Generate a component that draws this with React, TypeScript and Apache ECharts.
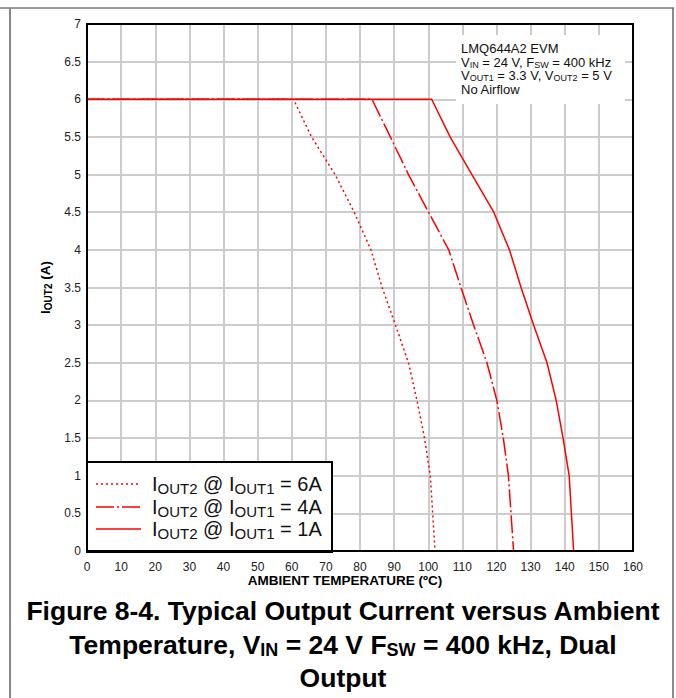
import React, { useEffect, useRef } from "react";
import * as echarts from "echarts";

// Output current levels (A) shared by the three derating curves
const currentLevels = [6, 6, 5.5, 5, 4.5, 4, 3.5, 3, 2.5, 2, 1.5, 1, 0];
// Ambient temperature (°C) at which each current level is reached
const temp6A = [0, 60.5, 65.8, 72.7, 78.3, 83.2, 86.5, 90.4, 94.2, 96.7, 98.9, 100.6, 102];
const temp4A = [0, 83.5, 88.9, 94.2, 100.1, 106, 109.6, 113.3, 117.2, 120.1, 122, 123.5, 125];
const temp1A = [0, 101, 106.4, 112.8, 119.2, 123.8, 127.2, 130.9, 134.8, 137.5, 139.5, 141.3, 142.6];

const seriesNames = ["IOUT2 @ IOUT1 = 6A", "IOUT2 @ IOUT1 = 4A", "IOUT2 @ IOUT1 = 1A"];
const legendRich = [
  "{m|I}{s|OUT2}{m| @ I}{s|OUT1}{m| = 6A}",
  "{m|I}{s|OUT2}{m| @ I}{s|OUT1}{m| = 4A}",
  "{m|I}{s|OUT2}{m| @ I}{s|OUT1}{m| = 1A}",
];
const annotationLines = [
  "{m|LMQ644A2 EVM}",
  "{m|V}{s|IN}{m| = 24 V, F}{s|SW}{m| = 400 kHz}",
  "{m|V}{s|OUT1}{m| = 3.3 V, V}{s|OUT2}{m| = 5 V}",
  "{m|No Airflow}",
];
const captionLines = [
  "{m|Figure 8-4. Typical Output Current versus Ambient}",
  "{m|Temperature, V}{s|IN}{m| = 24 V F}{s|SW}{m| = 400 kHz, Dual}",
  "{m|Output}",
];
const xAxisTitle = "AMBIENT TEMPERATURE (ºC)";
const yAxisTitle = "{m|I}{s|OUT2}{m| (A)}";

const FONT = "'Liberation Sans', Arial, Helvetica, sans-serif";
const RED = "#ff0000";
const DASHES: number[][] = [[2, 3], [18, 3, 2, 3], []];

export default function App() {
  const ref = useRef<HTMLDivElement>(null);
  useEffect(() => {
    const chart = echarts.init(ref.current!, null, { renderer: "svg" });
    const tempsList = [temp6A, temp4A, temp1A];

    const gl = 87, gt = 24, gw = 546, gh = 527;
    const Z = 100;

    const legendChildren: any[] = [
      {
        type: "rect",
        z: Z,
        shape: { x: 87, y: 462, width: 245, height: 90 },
        style: { fill: "#fff", stroke: "#000", lineWidth: 2 },
      },
    ];
    const legendY = [484, 507, 529];
    legendY.forEach((y, i) => {
      legendChildren.push({
        type: "line",
        z: Z + 1,
        shape: { x1: 96, y1: y, x2: 141, y2: y },
        style: { stroke: RED, lineWidth: 1.5, lineDash: DASHES[i].length ? DASHES[i] : null },
      });
      legendChildren.push({
        type: "text",
        z: Z + 1,
        x: 152,
        y: y,
        style: {
          text: legendRich[i],
          verticalAlign: "middle",
          rich: {
            m: { fontSize: 20, lineHeight: 20, fontFamily: FONT, fill: "#111" },
            s: { fontSize: 15, lineHeight: 13, padding: [8, 0, 0, 0], fontFamily: FONT, fill: "#111" },
          },
        },
      });
    });

    const annY = [48.5, 62, 75.5, 89.5];
    const annChildren: any[] = [
      { type: "rect", z: Z, shape: { x: 456, y: 35, width: 169, height: 69 }, style: { fill: "#fff" } },
      ...annotationLines.map((t, i) => ({
        type: "text",
        z: Z + 1,
        x: 461,
        y: annY[i],
        style: {
          text: t,
          verticalAlign: "middle",
          rich: {
            m: { fontSize: 13, lineHeight: 13, fontFamily: FONT, fill: "#111" },
            s: { fontSize: 9, lineHeight: 8, padding: [5, 0, 0, 0], fontFamily: FONT, fill: "#111" },
          },
        },
      })),
    ];

    const capY = [611, 645, 678];
    const capChildren: any[] = captionLines.map((t, i) => ({
      type: "text",
      z: Z + 1,
      x: 343,
      y: capY[i],
      style: {
        text: t,
        align: "center",
        verticalAlign: "middle",
        rich: {
          m: { fontSize: 26.5, lineHeight: 27, fontWeight: "bold", fontFamily: FONT, fill: "#000" },
          s: { fontSize: 18, lineHeight: 18, padding: [10, 0, 0, 0], fontWeight: "bold", fontFamily: FONT, fill: "#000" },
        },
      },
    }));

    chart.setOption({
      animation: false,
      grid: { left: gl, top: gt, width: gw, height: gh, containLabel: false },
      xAxis: {
        type: "value",
        min: 0,
        max: 160,
        interval: 10,
        axisLine: { show: false },
        axisTick: { show: false },
        axisLabel: { fontSize: 12, fontFamily: FONT, color: "#222", margin: 10 },
        splitLine: { show: true, lineStyle: { color: "#cccccc", width: 2 } },
      },
      yAxis: {
        type: "value",
        min: 0,
        max: 7,
        interval: 0.5,
        name: yAxisTitle,
        nameLocation: "middle",
        nameGap: 28,
        nameTextStyle: {
          rich: {
            m: { fontSize: 13.5, lineHeight: 14, fontWeight: "bold", fontFamily: FONT, color: "#000" },
            s: { fontSize: 10, lineHeight: 9, padding: [5, 0, 0, 0], fontWeight: "bold", fontFamily: FONT, color: "#000" },
          },
        },
        axisLine: { show: false },
        axisTick: { show: false },
        axisLabel: { fontSize: 12, fontFamily: FONT, color: "#222", margin: 6 },
        splitLine: { show: true, lineStyle: { color: "#cccccc", width: 2 } },
      },
      series: tempsList.map((temps, i) => ({
        name: seriesNames[i],
        type: "line",
        data: temps.map((t, j) => [t, currentLevels[j]]),
        showSymbol: false,
        symbol: "none",
        z: 2 + i,
        lineStyle: {
          color: RED,
          width: 1.5,
          type: DASHES[i].length ? DASHES[i] : "solid",
        },
      })),
      graphic: [
        { type: "line", z: Z, shape: { x1: 0, y1: 8, x2: 674, y2: 8 }, style: { stroke: "#333", lineWidth: 1 } },
        { type: "line", z: Z, shape: { x1: 10, y1: 8, x2: 10, y2: 698 }, style: { stroke: "#888", lineWidth: 2 } },
        { type: "line", z: Z, shape: { x1: 673, y1: 8, x2: 673, y2: 698 }, style: { stroke: "#666", lineWidth: 1.5 } },
        { type: "group", z: Z, children: annChildren },
        {
          type: "rect",
          z: Z + 5,
          shape: { x: gl, y: gt, width: gw, height: gh },
          style: { fill: "none", stroke: "#000", lineWidth: 2 },
        },
        { type: "group", z: Z, children: legendChildren },
        {
          type: "text",
          z: Z + 1,
          x: 345,
          y: 580,
          style: {
            text: xAxisTitle,
            align: "center",
            verticalAlign: "middle",
            fontSize: 13.5,
            fontWeight: "bold",
            fontFamily: FONT,
            fill: "#000",
          },
        },
        { type: "group", z: Z, children: capChildren },
      ],
    });
    return () => chart.dispose();
  }, []);
  return (
    <div
      ref={ref}
      style={{ position: "fixed", left: 0, top: 0, width: 676, height: 698, background: "#fff" }}
    />
  );
}
